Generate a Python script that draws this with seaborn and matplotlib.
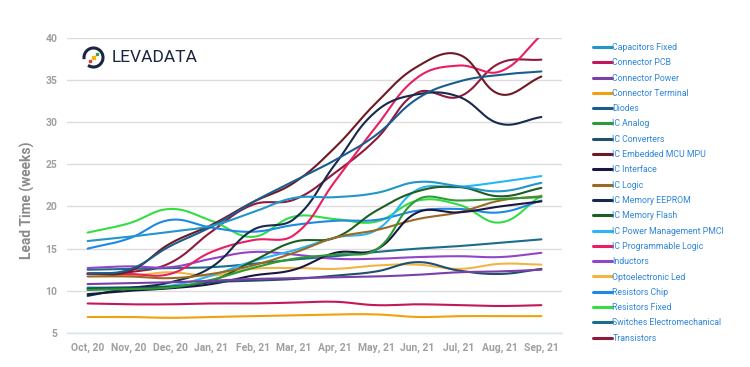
import numpy as np
import pandas as pd
import seaborn as sns
import matplotlib.pyplot as plt
from matplotlib.lines import Line2D
from matplotlib.patches import Arc, Rectangle

# Monthly lead time (weeks) per commodity
months = ["Oct, 20", "Nov, 20", "Dec, 20", "Jan, 21", "Feb, 21", "Mar, 21",
          "Apr, 21", "May, 21", "Jun, 21", "Jul, 21", "Aug, 21", "Sep, 21"]

capacitors_fixed = [15.9, 16.4, 17.0, 17.7, 19.3, 21.0, 21.1, 21.6, 22.9, 22.4, 21.8, 22.8]
connector_pcb = [8.5, 8.4, 8.4, 8.5, 8.5, 8.6, 8.7, 8.3, 8.4, 8.3, 8.2, 8.3]
connector_power = [10.8, 10.9, 11.0, 11.2, 11.4, 11.5, 11.6, 11.7, 11.9, 12.2, 12.3, 12.5]
connector_terminal = [6.9, 6.9, 6.8, 6.9, 7.0, 7.1, 7.2, 7.2, 6.9, 7.0, 7.0, 7.0]
diodes = [12.0, 12.5, 15.3, 17.6, 20.5, 23.0, 25.5, 28.5, 32.8, 34.8, 35.6, 36.0]
ic_analog = [10.1, 10.2, 10.4, 11.3, 12.7, 13.8, 14.3, 14.9, 20.8, 20.7, 20.9, 21.1]
ic_converters = [10.2, 10.3, 10.4, 11.0, 11.2, 11.4, 11.8, 12.3, 13.4, 12.4, 12.0, 12.6]
ic_embedded = [12.0, 12.3, 15.6, 17.8, 20.5, 22.8, 27.0, 32.3, 36.6, 38.0, 33.3, 35.4]
ic_interface = [9.6, 10.0, 10.3, 10.8, 11.8, 12.5, 14.5, 14.9, 19.3, 19.3, 20.0, 20.6]
ic_logic = [11.7, 11.7, 11.5, 12.0, 13.0, 14.5, 16.3, 17.2, 18.5, 19.3, 20.7, 21.2]
ic_memory_eeprom = [9.4, 10.3, 11.0, 12.8, 17.2, 18.5, 25.0, 31.3, 33.3, 33.0, 29.8, 30.6]
ic_memory_flash = [10.3, 10.4, 10.5, 11.2, 13.5, 15.8, 16.3, 19.5, 21.8, 22.3, 21.2, 22.2]
ic_power_mgmt = [10.4, 10.4, 10.6, 11.8, 13.5, 14.8, 16.3, 17.2, 22.0, 22.3, 22.9, 23.6]
ic_prog_logic = [12.1, 12.0, 12.0, 14.6, 16.0, 16.6, 23.0, 29.5, 35.3, 36.7, 36.0, 40.3]
inductors = [12.7, 12.9, 12.8, 13.8, 14.6, 14.3, 13.8, 13.8, 14.0, 14.1, 14.0, 14.5]
optoelectronic_led = [12.0, 11.8, 12.2, 11.8, 12.6, 12.7, 12.6, 13.0, 13.1, 12.6, 13.2, 13.1]
resistors_chip = [15.0, 16.2, 18.4, 17.5, 17.0, 17.8, 18.3, 18.4, 19.5, 19.7, 19.3, 20.7]
resistors_fixed = [16.9, 18.0, 19.7, 18.3, 16.4, 18.8, 18.5, 18.2, 20.7, 20.2, 18.1, 21.3]
switches_electromech = [12.5, 12.6, 12.7, 12.8, 13.2, 13.7, 14.1, 14.6, 15.0, 15.3, 15.7, 16.1]
transistors = [12.0, 12.2, 13.3, 17.0, 20.2, 20.8, 24.0, 28.0, 33.5, 33.0, 37.0, 37.4]

series_names = ["Capacitors Fixed", "Connector PCB", "Connector Power", "Connector Terminal",
                "Diodes", "IC Analog", "IC Converters", "IC Embedded MCU MPU", "IC Interface",
                "IC Logic", "IC Memory EEPROM", "IC Memory Flash", "IC Power Management PMCI",
                "IC Programmable Logic", "Inductors", "Optoelectronic Led", "Resistors Chip",
                "Resistors Fixed", "Switches Electromechanical", "Transistors"]
series_values = [capacitors_fixed, connector_pcb, connector_power, connector_terminal,
                 diodes, ic_analog, ic_converters, ic_embedded, ic_interface,
                 ic_logic, ic_memory_eeprom, ic_memory_flash, ic_power_mgmt,
                 ic_prog_logic, inductors, optoelectronic_led, resistors_chip,
                 resistors_fixed, switches_electromech, transistors]
series_colors = ["#2196c9", "#c2185b", "#7b3fa8", "#f0a20c",
                 "#1b5c8f", "#2e9a35", "#20506b", "#6d1a24", "#1a1840",
                 "#9b6a22", "#17294d", "#1d5e23", "#29b6f6",
                 "#e91e63", "#9146c7", "#f2b544", "#1e88e5",
                 "#35dd45", "#1b6d8a", "#8e1b3c"]


def smooth_curve(ys, tension=0.4, steps=24):
    # bezier smoothing like chart.js line tension, done in pixel-ish space
    sx, sy = 41.2, 8.44
    pts = np.column_stack([np.arange(len(ys)) * sx, np.asarray(ys) * sy])
    n = len(pts)
    c_prev = pts.copy()
    c_next = pts.copy()
    for i in range(n):
        p0 = pts[max(i - 1, 0)]
        p1 = pts[i]
        p2 = pts[min(i + 1, n - 1)]
        d01 = np.hypot(*(p1 - p0))
        d12 = np.hypot(*(p2 - p1))
        tot = d01 + d12
        if tot == 0:
            continue
        fa = tension * d01 / tot
        fb = tension * d12 / tot
        c_prev[i] = p1 - fa * (p2 - p0)
        c_next[i] = p1 + fb * (p2 - p0)
    out = [pts[0]]
    t = np.linspace(0, 1, steps)[1:, None]
    for i in range(n - 1):
        a, b, c, d = pts[i], c_next[i], c_prev[i + 1], pts[i + 1]
        seg = ((1 - t) ** 3) * a + 3 * ((1 - t) ** 2) * t * b + 3 * (1 - t) * t ** 2 * c + t ** 3 * d
        out.extend(seg)
    out = np.array(out)
    return out[:, 0] / sx, out[:, 1] / sy


sns.set_theme(style="white")
plt.rcParams["font.family"] = ["Roboto", "DejaVu Sans"]

fig = plt.figure(figsize=(7.5, 3.67), dpi=100)
ax = fig.add_axes([67 / 750, 34 / 367, 495 / 750, 295.3 / 367])

# draw in reverse so the first dataset ends on top
for name, vals, col in reversed(list(zip(series_names, series_values, series_colors))):
    xs, ys = smooth_curve(vals)
    df = pd.DataFrame({"x": xs, "y": ys})
    sns.lineplot(data=df, x="x", y="y", color=col, linewidth=1.5, sort=False,
                 estimator=None, ax=ax)

ax.set_xlim(-0.5, len(months) - 0.5)
ax.set_ylim(5, 40)
ax.set_xticks(range(len(months)))
ax.set_xticklabels(months)
ax.set_yticks(range(5, 41, 5))
ax.grid(axis="y", color="#dcdcdc", linewidth=1)
ax.grid(axis="x", visible=False)
for s in ["top", "right", "left"]:
    ax.spines[s].set_visible(False)
ax.spines["bottom"].set_color("#cfe3f3")
ax.spines["bottom"].set_linewidth(1)
ax.tick_params(axis="both", length=0, colors="#a0a0a0")
ax.tick_params(axis="y", pad=7, labelsize=7.5)
ax.tick_params(axis="x", pad=7, labelsize=7.5)
for lab in ax.get_xticklabels() + ax.get_yticklabels():
    lab.set_fontweight("bold")
ax.set_xlabel("")
ax.set_ylabel("Lead Time (weeks)", fontsize=9.9, fontweight="bold", color="#8a8a8a")
ax.yaxis.set_label_coords(-0.064, 0.45)

# legend on the right
handles = [Line2D([0], [0], color=c, lw=2.2) for c in series_colors]
fig.legend(handles, series_names, loc="upper left", bbox_to_anchor=(589 / 750, 1 - 39.5 / 367),
           frameon=False, fontsize=6.3, labelcolor="#2f86dc", handlelength=2.2,
           handletextpad=0.08, labelspacing=0.72, borderaxespad=0)

# logo
fig.text(112 / 750, 1 - 58 / 367, "LEVADATA", fontsize=12.5, color="#1b2440",
         va="center", ha="left")
cx, cy = 0.935, (367 - 57.5) / 100
fig.add_artist(Arc((cx, cy), 0.19, 0.19, theta1=235, theta2=190,
                   transform=fig.dpi_scale_trans, color="#1b2440", lw=2.2))
for dx, dy, c in [(-0.035, -0.035, "#e53935"), (0.0, 0.0, "#f6b40e"), (0.035, 0.035, "#43a047")]:
    fig.add_artist(Rectangle((cx + dx - 0.013, cy + dy - 0.013), 0.026, 0.026,
                             transform=fig.dpi_scale_trans, color=c))

fig.savefig("out.png", dpi=100)
